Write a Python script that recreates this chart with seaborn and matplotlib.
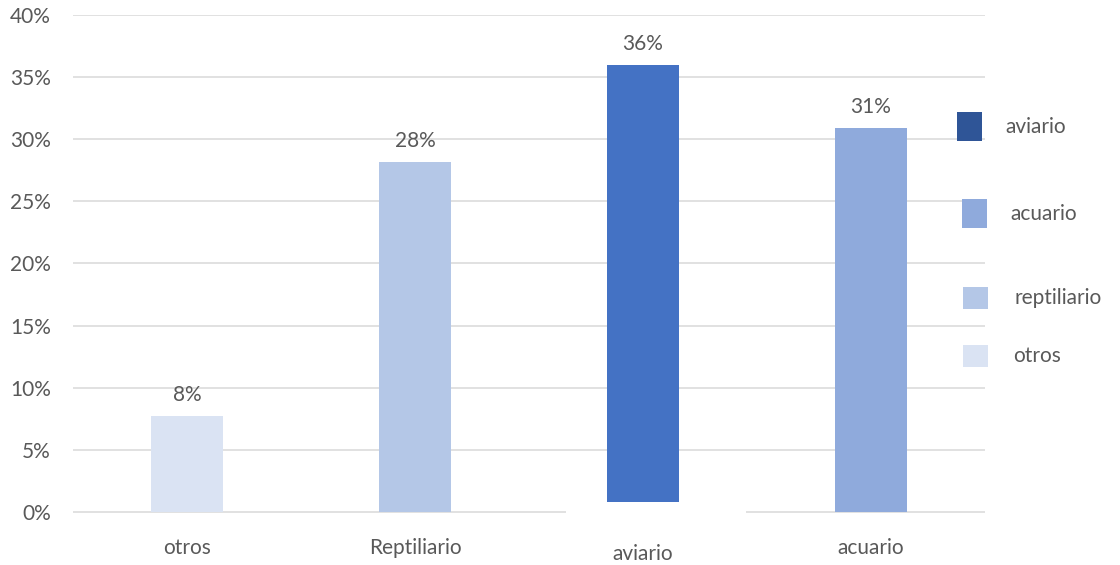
import matplotlib.pyplot as plt
import matplotlib.transforms as mtransforms
from matplotlib.patches import Rectangle
import pandas as pd
import seaborn as sns

# Data
categories = ['otros', 'Reptiliario', 'aviario', 'acuario']
values = [7.7, 28.2, 36.0, 30.9]
bottoms = [0, 0, 0.8, 0]
value_labels = ['8%', '28%', '36%', '31%']
bar_colors = ['#DAE3F3', '#B4C7E7', '#4472C4', '#8FAADC']

legend_labels = ['aviario', 'acuario', 'reptiliario', 'otros']
legend_colors = ['#2F5597', '#8FAADC', '#B4C7E7', '#DAE3F3']

y_ticks = [0, 5, 10, 15, 20, 25, 30, 35, 40]

text_color = '#595959'
grid_color = '#D9D9D9'
fs = 15

sns.set_theme(style='white')
plt.rcParams['font.family'] = ['Lato', 'DejaVu Sans']

df = pd.DataFrame({'cat': categories, 'value': values})

fig = plt.figure(figsize=(11.2, 5.65), dpi=100)
ax = fig.add_axes([0.0652, 0.0938, 0.8143, 0.8797])

sns.barplot(data=df, x='cat', y='value', hue='cat', palette=bar_colors,
            width=0.316, saturation=1, legend=False, ax=ax, zorder=3)

# aviario bar floats slightly above the baseline
for patch, b, v in zip(ax.patches, bottoms, values):
    patch.set_y(b)
    patch.set_height(v - b)
    patch.set_linewidth(0)

for i, (v, lab) in enumerate(zip(values, value_labels)):
    ax.annotate(lab, xy=(i, v), xytext=(0, 15), textcoords='offset points',
                ha='center', va='center', fontsize=fs, color=text_color)

ax.set_xlim(-0.5, 3.5)
ax.set_ylim(0, 40)
ax.set_yticks(y_ticks)
ax.set_yticklabels([f'{t}%' for t in y_ticks], fontsize=fs, color=text_color)

for t in y_ticks[1:]:
    ax.axhline(t, color=grid_color, lw=1.1, zorder=1)
# baseline has a gap around the aviario column
ax.hlines(0, -0.5, 1.66, color=grid_color, lw=1.1, zorder=1, clip_on=False)
ax.hlines(0, 2.45, 3.5, color=grid_color, lw=1.1, zorder=1, clip_on=False)

ax.set_xticks(range(len(categories)))
ax.set_xticklabels(categories, fontsize=fs, color=text_color)
ax.tick_params(axis='x', length=0, pad=19)
ax.tick_params(axis='y', length=0, pad=16)
lbl = ax.get_xticklabels()[2]
lbl.set_transform(lbl.get_transform() + mtransforms.ScaledTranslation(0, -6 / 100, fig.dpi_scale_trans))

ax.set_xlabel('')
ax.set_ylabel('')
sns.despine(ax=ax, left=True, bottom=True)

# manual legend on the right
legend_boxes = [(957, 112, 25, 29), (962, 199, 25, 29), (963, 287, 25, 22), (963, 345, 25, 22)]
legend_text_x = [1005, 1010, 1015, 1013]
W, H = 1120, 565
for (x0, y0, w, h), tx, lab, col in zip(legend_boxes, legend_text_x, legend_labels, legend_colors):
    fig.add_artist(Rectangle((x0 / W, 1 - (y0 + h) / H), w / W, h / H,
                             transform=fig.transFigure, color=col, lw=0))
    fig.text(tx / W, 1 - (y0 + h / 2) / H, lab, fontsize=fs, color=text_color,
             ha='left', va='center')

fig.savefig('out.png', dpi=100)
